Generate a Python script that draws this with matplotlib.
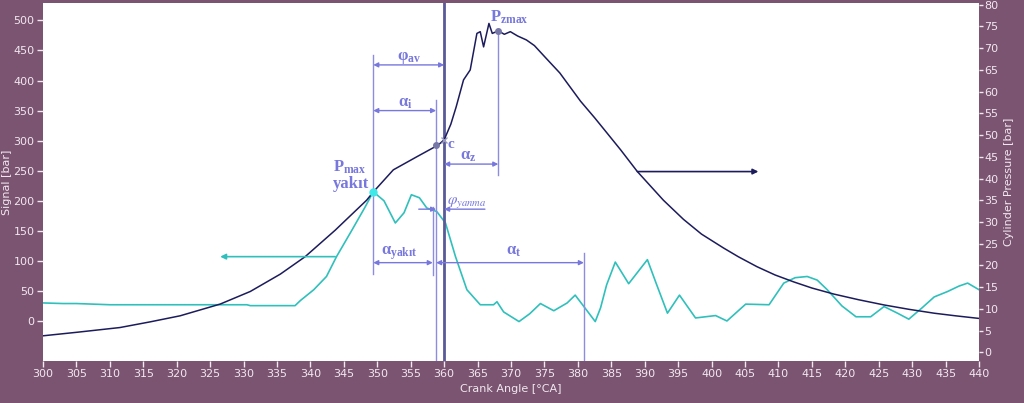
"""Crank-angle chart: injector signal and cylinder pressure with timing marks."""

import matplotlib

matplotlib.use("Agg")
import matplotlib.pyplot as plt

# Signal trace (left axis, bar)
signal_angle = [
    300, 303, 305, 310, 320, 330.5, 331, 337.7, 338.5, 340.5, 342.4, 343.9,
    346.2, 348.2, 349.4, 351, 352.7, 354, 355.1, 356.3, 357.4, 358.9, 360.2,
    361.7, 363.4, 365.4, 367.4, 367.9, 368.9, 371.2, 372.8, 374.4, 376.4,
    378.4, 379.6, 380.9, 382.6, 383.4, 384.3, 385.6, 387.6, 390.4, 391.8,
    393.4, 395.2, 397.6, 400.6, 402.3, 405.1, 408.6, 410.8, 412.5, 414.3,
    415.8, 417.3, 419.5, 421.6, 423.8, 425.8, 427.8, 429.5, 431.5, 433.3,
    435.3, 437, 438.3, 440,
]
signal_bar = [
    30, 29, 29, 27, 27, 27, 25.5, 25.5, 34, 52, 74, 107,
    151, 190, 215, 200, 163, 180, 210, 205, 188, 182, 163,
    107, 52, 27, 27, 32, 15, -1, 12, 29, 17,
    30, 43, 24, -1, 22, 60, 98, 62, 102, 60,
    13, 43, 5, 9, 0, 28, 27, 63, 72, 74,
    68, 52, 25, 7, 7, 24, 13, 3, 22, 40,
    49, 58, 63, 52,
]

# Cylinder pressure trace (right axis, bar)
pressure_angle = [
    300, 305, 311.5, 316, 320.5, 326.5, 331, 335.5, 339.2, 343.7, 345.4,
    348.4, 349.4, 352.4, 355.9, 359.1, 360, 361, 361.8, 362.9, 363.9, 364.9,
    365.4, 365.9, 366.7, 367.2, 368.1, 369, 369.9, 371, 372.3, 373.5, 375.3,
    377.3, 380.4, 382.5, 384.4, 386.4, 388.9, 392.8, 395.8, 398.5, 401.8,
    404, 406.8, 409.5, 412.3, 415, 418.3, 422, 425.8, 429.5, 433.3, 436.5,
    440,
]
pressure_bar = [
    3.8, 4.6, 5.7, 7.0, 8.4, 11.1, 14.0, 18.0, 22.0, 28.1, 30.6,
    35.0, 36.9, 42.0, 45.0, 47.7, 48.9, 52.5, 56.5, 62.7, 65.0, 73.4,
    73.8, 70.3, 75.7, 73.4, 74.0, 73.2, 73.8, 72.8, 71.9, 70.6, 67.6,
    64.3, 57.8, 54.0, 50.4, 46.6, 41.6, 35.0, 30.6, 27.2, 24.0,
    22.0, 19.7, 17.8, 16.2, 14.8, 13.4, 12.1, 10.9, 9.9, 9.0, 8.4,
    7.8,
]

# Timing marks [°CA]
start_inj = 349.4     # P max yakıt
end_inj = 358.3       # end of α yakıt
point_c = 358.8
tdc = 360
pz_max_angle = 368.1
end_t = 380.9

x_ticks = list(range(300, 441, 5))
left_ticks = list(range(0, 501, 50))
right_ticks = list(range(0, 81, 5))

BG = "#7a5470"
TXT = "#f2e8f0"
NAVY = "#1c1c5c"
CYAN = "#30c0bc"
ANN = "#7777dd"
LINE = "#8c8ce0"

plt.rcParams["mathtext.fontset"] = "custom"
plt.rcParams["mathtext.rm"] = "Liberation Serif:bold"
plt.rcParams["mathtext.it"] = "Liberation Serif:bold"
plt.rcParams["mathtext.bf"] = "Liberation Serif:bold"

fig = plt.figure(figsize=(10.24, 4.03), dpi=100, facecolor=BG)
ax = fig.add_axes([43 / 1024, 1 - 361 / 403, 936 / 1024, 358 / 403])
ax.set_facecolor("white")
ax2 = ax.twinx()
ax2.patch.set_visible(False)

ax.set_xlim(300, 440)
ax.set_ylim(-66.6, 529)
ax2.set_ylim(-2.0, 80.4)

for a in (ax, ax2):
    for s in a.spines.values():
        s.set_visible(False)
ax.set_xticks(x_ticks)
ax.set_yticks(left_ticks)
ax2.set_yticks(right_ticks)
ax.tick_params(axis="both", colors=TXT, labelcolor=TXT, labelsize=8,
               length=4, width=1, direction="out", pad=2)
ax2.tick_params(axis="y", colors=TXT, labelcolor=TXT, labelsize=8,
                length=3, width=1, direction="out", pad=1)
ax.set_xlabel("Crank Angle [°CA]", color=TXT, fontsize=8, labelpad=3)
ax.set_ylabel("Signal [bar]", color=TXT, fontsize=8, labelpad=1)
ax2.set_ylabel("Cylinder Pressure [bar]", color=TXT, fontsize=8, labelpad=4)

# traces
ax.plot(signal_angle, signal_bar, color=CYAN, lw=1.2)
ax2.plot(pressure_angle, pressure_bar, color=NAVY, lw=1.1)

# vertical marker lines
ax.axvline(tdc, color="#5a5a98", lw=2)
ax.plot([point_c, point_c], [368, -66.6], color=LINE, lw=1)
ax.plot([start_inj, start_inj], [443, 78], color=LINE, lw=1)
ax.plot([end_inj, end_inj], [190, 77], color=LINE, lw=1)
ax.plot([pz_max_angle, pz_max_angle], [483, 243], color=LINE, lw=1)
ax.plot([end_t, end_t], [113, -66.6], color=LINE, lw=1)


def span(x0, x1, y, style="<|-|>"):
    ax2.annotate("", xy=(x1, y), xytext=(x0, y), xycoords=ax.transData,
                 textcoords=ax.transData,
                 arrowprops=dict(arrowstyle=style, color=ANN, lw=1,
                                 mutation_scale=7, shrinkA=0, shrinkB=0))


span(start_inj, tdc, 426)
span(start_inj, point_c, 350)
span(tdc, pz_max_angle, 261)
span(start_inj, end_inj, 97)
span(point_c, end_t, 97)
span(356.2, point_c, 186, "-|>")
span(366.1, tdc, 186, "-|>")

# direction arrows for the two axes
ax2.annotate("", xy=(326.5, 107), xytext=(343.7, 107), xycoords=ax.transData,
             textcoords=ax.transData,
             arrowprops=dict(arrowstyle="-|>", color=CYAN, lw=1.2,
                             mutation_scale=8, shrinkA=0, shrinkB=0))
ax2.annotate("", xy=(407, 41.6), xytext=(388.9, 41.6),
             arrowprops=dict(arrowstyle="-|>", color=NAVY, lw=1.2,
                             mutation_scale=8, shrinkA=0, shrinkB=0))

# points
ax2.plot([start_inj], [36.9], "o", color="#40e8e8", ms=5)
ax2.plot([pz_max_angle], [74], "o", color="#7878a8", ms=4)
ax2.plot([point_c], [47.7], "o", color="#7878a8", ms=4)
ax2.plot([tdc], [48.9], "x", color="#9a9ac0", ms=4, mew=1)

# labels
lab = dict(color=ANN, fontsize=12, ha="left", va="baseline",
           transform=ax.transData)
ax2.text(353.0, 434, r"$\varphi_{av}$", **lab)
ax2.text(353.1, 356, r"$\alpha_{i}$", **lab)
ax2.text(362.4, 268, r"$\alpha_{z}$", **lab)
ax2.text(350.5, 110, r"$\alpha_{yakıt}$", **lab)
ax2.text(369.2, 110, r"$\alpha_{t}$", **lab)
ax2.text(366.9, 498, r"$P_{zmax}$", **lab)
ax2.text(343.4, 248, r"$P_{max}$", **lab)
ax2.text(343.4, 221, "yakıt", color=ANN, fontsize=12, ha="left",
         va="baseline", family="Liberation Serif", weight="bold",
         transform=ax.transData)
ax2.text(360.5, 287, "c", color=ANN, fontsize=11, ha="left", va="baseline",
         family="Liberation Serif", weight="bold", transform=ax.transData)
ax2.text(360.5, 195, r"$\varphi_{yanma}$", color=ANN, fontsize=11, ha="left",
         va="baseline", math_fontfamily="stix", transform=ax.transData)

fig.savefig("out.png", dpi=100, facecolor=BG)
